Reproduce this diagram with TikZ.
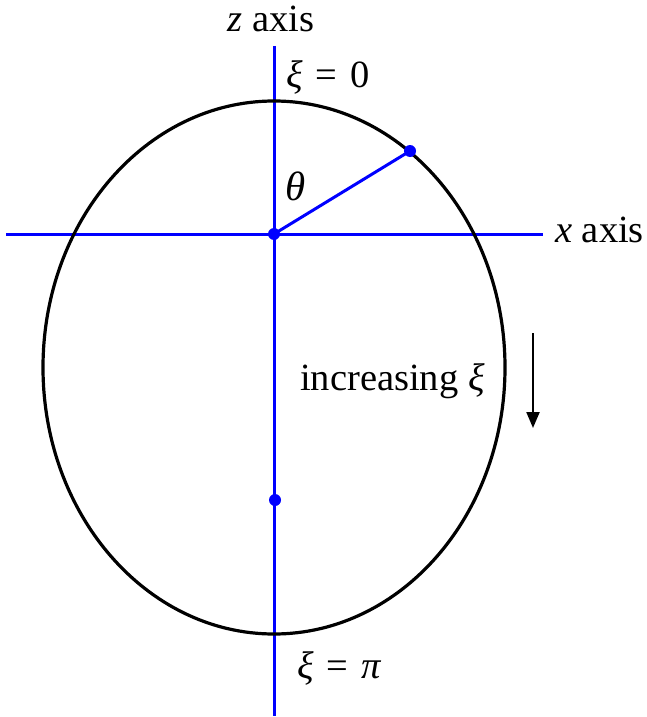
\documentclass[tikz,border=0pt]{standalone}
\usepackage{fontspec}
\setmainfont{Liberation Serif}
\usetikzlibrary{arrows.meta}
\tikzset{
  axisline/.style={draw=blue, line width=3pt},
  curveline/.style={draw=black, line width=3.2pt},
  dotpt/.style={circle, fill=blue, inner sep=0pt, minimum size=12pt},
  lbl/.style={anchor=base west, inner sep=0pt, font=\fontsize{38.5}{44}\selectfont},
  flow/.style={draw=black, line width=2.2pt, -{Triangle[width=13pt,length=16pt]}}
}
\begin{document}
\begin{tikzpicture}[x=1pt,y=-1pt]
\useasboundingbox (0,0) rectangle (647,717);
% axes
\coordinate (zt) at (274,46);
\coordinate (zb) at (274,716);
\coordinate (xl) at (6,234);
\coordinate (xr) at (543,234);
\draw[axisline] (zt) -- (zb);
\draw[axisline] (xl) -- (xr);
% curve
\draw[curveline] (274,367.5) ellipse [x radius=231pt, y radius=266.5pt];
% points
\node[dotpt] (O) at (274,234) {};
\node[dotpt] (P) at (410,151) {};
\node[dotpt] (Q) at (275,500) {};
\draw[axisline] (O.center) -- (P.center);
% arrow
\coordinate (a1) at (533,333);
\coordinate (a2) at (533,428);
\draw[flow] (a1) -- (a2);
% labels
\node[lbl, anchor=base] (zlab) at (271,32) {\textit{z} axis};
\node[lbl] (xi0) at (286,87) {\textit{ξ}\,\,=\,\,0};
\node[lbl, font=\fontsize{41}{46}\selectfont] (th) at (285,200) {\textit{θ}};
\node[lbl] (xlab) at (555,242) {\textit{x} axis};
\node[lbl] (inc) at (300,390) {increasing \textit{ξ}};
\node[lbl] (xipi) at (297,678) {\textit{ξ}\,\,=\,\,\textit{π}};
\end{tikzpicture}
\end{document}
